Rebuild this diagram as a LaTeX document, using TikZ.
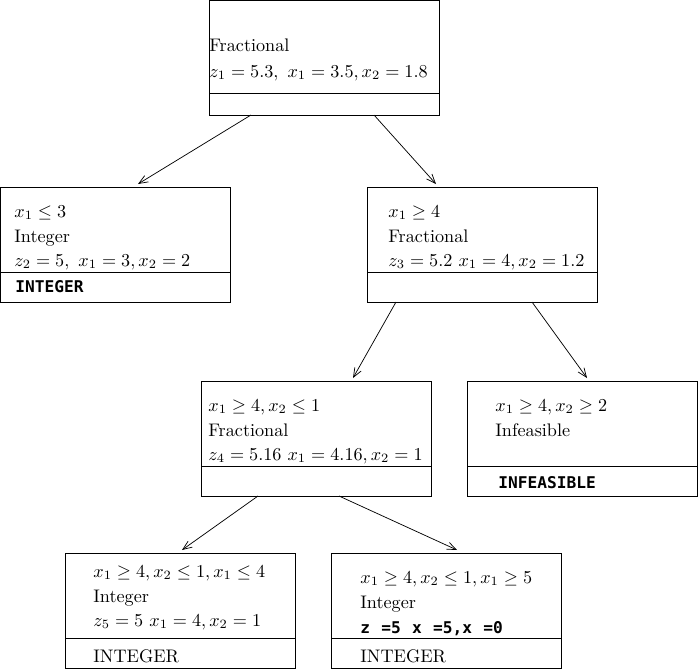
\documentclass[tikz,border=0pt]{standalone}
\usepackage{fontspec}
\newfontfamily\monobf{DejaVu Sans Mono}
\usetikzlibrary{arrows.meta,calc}
\newcommand{\gap}{\hspace{6.2pt}}
\begin{document}
\begin{tikzpicture}[x=0.55pt,y=-0.55pt,
	box/.style={draw,line width=0.5pt,rectangle,anchor=north west,inner sep=0pt,outer sep=0pt,minimum width=126.5pt,minimum height=63.25pt},
	txt/.style={anchor=base west,inner sep=0pt},
	tag/.style={anchor=base west,inner sep=0pt,font=\monobf\bfseries\fontsize{8.9}{10}\selectfont},
	arr/.style={line width=0.4pt,-{Straight Barb[length=5pt,width=4pt]}}]
		\useasboundingbox (0,0) rectangle (698,669);
		%draw the boxes of the tree
		\node[box] (n1) at (209,0) {};
		\node[box] (n2) at (0,187) {};
		\node[box] (n3) at (367,187) {};
		\node[box] (n4) at (201,381) {};
		\node[box] (n5) at (467,381) {};
		\node[box] (n6) at (65,553) {};
		\node[box] (n7) at (331,553) {};
        
		%lower parts of the boxes
		\draw[line width=0.5pt] ($(n1.south west)+(0,-22)$) -- ($(n1.south east)+(0,-22)$);
		\foreach \n in {n2,n3,n4,n5,n6,n7}
			\draw[line width=0.5pt] ($(\n.south west)+(0,-30)$) -- ($(\n.south east)+(0,-30)$);
        
		\node[txt] (t11) at (209,51) {Fractional};
		\node[txt] (t12) at (209,77) {$z_1 = 5.3,\ x_1 = 3.5, x_2 = 1.8$};
        
		\node[txt] (t21) at (14,217) {$x_1 \le 3$};
		\node[txt] (t22) at (14,242) {Integer};
		\node[txt] (t23) at (14,266) {$z_2 = 5,\ x_1 = 3, x_2 = 2$};
		\node[tag] (t24) at (15,292) {INTEGER};
        
		\node[txt] (t31) at (388,217) {$x_1 \ge 4$};
		\node[txt] (t32) at (388,242) {Fractional};
		\node[txt] (t33) at (388,266) {$z_3 = 5.2\ x_1 = 4, x_2 = 1.2$};
        
		\node[txt] (t41) at (208,411) {$x_1 \ge 4, x_2 \le 1$};
		\node[txt] (t42) at (208,436) {Fractional};
		\node[txt] (t43) at (208,460) {$z_4 = 5.16\ x_1 = 4.16, x_2 = 1$};
        
		\node[txt] (t51) at (495,411) {$x_1 \ge 4, x_2 \ge 2$};
		\node[txt] (t52) at (495,436) {Infeasible};
		\node[tag] (t53) at (498,488) {INFEASIBLE};
        
		\node[txt] (t61) at (93,577) {$x_1 \ge 4, x_2 \le 1, x_1 \le 4$};
		\node[txt] (t62) at (93,602) {Integer};
		\node[txt] (t63) at (93,626) {$z_5 = 5\ x_1 = 4, x_2 = 1$};
		\node[txt] (t64) at (93,662) {INTEGER};
        
		\node[txt] (t71) at (360,583) {$x_1 \ge 4, x_2 \le 1, x_1 \ge 5$};
		\node[txt] (t72) at (360,608) {Integer};
		\node[tag] (t73) at (360,633) {z\gap=5\gap x\gap=5,x\gap=0};
		\node[txt] (t74) at (360,662) {INTEGER};
        
		%branches
		\draw[arr] ($(n1.south west)+(42,0)$) -- ($(n2.north west)+(138,-3)$);
		\draw[arr] ($(n1.south west)+(165,0)$) -- ($(n3.north west)+(69,-3)$);
		\draw[arr] ($(n3.south west)+(29,0)$) -- ($(n4.north west)+(152,-3)$);
		\draw[arr] ($(n3.south west)+(165,0)$) -- ($(n5.north west)+(120,-3)$);
		\draw[arr] ($(n4.south west)+(57,0)$) -- ($(n6.north west)+(117,-3)$);
		\draw[arr] ($(n4.south west)+(138,0)$) -- ($(n7.north west)+(126,-3)$);
        
	\end{tikzpicture}
\end{document}
